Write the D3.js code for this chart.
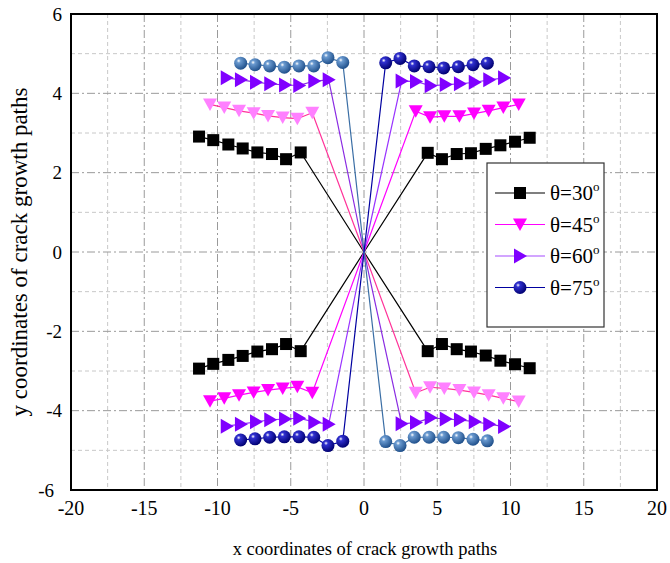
<!DOCTYPE html>
<html lang="en">
<head>
<meta charset="UTF-8">
<script src="https://d3js.org/d3.v7.min.js"></script>
<style>
  body { margin: 0; background: #fff; }
</style>
</head>
<body>
<div id="chart"></div>
<script>
// Data
const xTicks = [-20, -15, -10, -5, 0, 5, 10, 15, 20];
const yTicks = [-6, -4, -2, 0, 2, 4, 6];

const x30L = [-11.26, -10.29, -9.26, -8.28, -7.28, -6.28, -5.32, -4.32];
const x30R = [4.35, 5.32, 6.33, 7.30, 8.31, 9.31, 10.31, 11.31];
const y30UL = [2.91, 2.82, 2.71, 2.61, 2.51, 2.47, 2.34, 2.51];
const y30UR = [2.50, 2.34, 2.47, 2.49, 2.60, 2.69, 2.78, 2.88];
const y30LL = [-2.94, -2.82, -2.72, -2.62, -2.51, -2.45, -2.32, -2.50];
const y30LR = [-2.50, -2.32, -2.45, -2.51, -2.61, -2.74, -2.83, -2.93];

const x45L = [-10.51, -9.54, -8.53, -7.53, -6.55, -5.55, -4.55, -3.53];
const x45R = [3.53, 4.51, 5.48, 6.51, 7.51, 8.51, 9.51, 10.56];
const y45UL = [3.72, 3.64, 3.56, 3.50, 3.43, 3.39, 3.36, 3.51];
const y45UR = [3.55, 3.40, 3.42, 3.42, 3.49, 3.56, 3.64, 3.72];
const y45LL = [-3.76, -3.69, -3.61, -3.54, -3.48, -3.44, -3.40, -3.55];
const y45LR = [-3.55, -3.41, -3.44, -3.48, -3.54, -3.61, -3.69, -3.77];

const x60L = [-9.37, -8.40, -7.37, -6.40, -5.39, -4.42, -3.39, -2.41];
const x60R = [2.57, 3.55, 4.55, 5.58, 6.55, 7.56, 8.55, 9.56];
const y60UL = [4.39, 4.34, 4.28, 4.24, 4.21, 4.20, 4.31, 4.34];
const y60UR = [4.31, 4.30, 4.19, 4.22, 4.24, 4.28, 4.34, 4.39];
const y60LL = [-4.39, -4.34, -4.28, -4.23, -4.21, -4.19, -4.29, -4.34];
const y60LR = [-4.33, -4.30, -4.18, -4.21, -4.23, -4.28, -4.34, -4.40];

const x75L = [-8.42, -7.44, -6.44, -5.44, -4.44, -3.43, -2.46, -1.45];
const x75R = [1.48, 2.46, 3.43, 4.44, 5.44, 6.44, 7.44, 8.42];
const y75UL = [4.76, 4.72, 4.69, 4.66, 4.69, 4.69, 4.90, 4.78];
const y75UR = [4.77, 4.88, 4.69, 4.67, 4.64, 4.67, 4.72, 4.76];
const y75LL = [-4.74, -4.71, -4.67, -4.66, -4.66, -4.67, -4.88, -4.77];
const y75LR = [-4.78, -4.88, -4.67, -4.67, -4.67, -4.68, -4.72, -4.76];

const legendLabels = ["30", "45", "60", "75"];

// Series: side tells whether the origin joins at the end (left) or start (right)
const series = [
  { xs: x30L, ys: y30UL, side: "L", mark: "square", fill: "#000", line: "#000" },
  { xs: x30R, ys: y30UR, side: "R", mark: "square", fill: "#000", line: "#000" },
  { xs: x30L, ys: y30LL, side: "L", mark: "square", fill: "#000", line: "#000" },
  { xs: x30R, ys: y30LR, side: "R", mark: "square", fill: "#000", line: "#000" },
  { xs: x45L, ys: y45UL, side: "L", mark: "down", fill: "#ff80ff", line: "#ff3399" },
  { xs: x45R, ys: y45UR, side: "R", mark: "down", fill: "#ff00ff", line: "#ff00ff" },
  { xs: x45L, ys: y45LL, side: "L", mark: "down", fill: "#ff00ff", line: "#ff00ff" },
  { xs: x45R, ys: y45LR, side: "R", mark: "down", fill: "#ff80ff", line: "#ff3399" },
  { xs: x60L, ys: y60UL, side: "L", mark: "right", fill: "#8000ff", line: "#8a2be2" },
  { xs: x60R, ys: y60UR, side: "R", mark: "right", fill: "#8000ff", line: "#9933ff" },
  { xs: x60L, ys: y60LL, side: "L", mark: "right", fill: "#8000ff", line: "#9933ff" },
  { xs: x60R, ys: y60LR, side: "R", mark: "right", fill: "#8000ff", line: "#8a2be2" },
  { xs: x75L, ys: y75UL, side: "L", mark: "ball", fill: "url(#gSteel)", line: "#3a6ea5" },
  { xs: x75R, ys: y75UR, side: "R", mark: "ball", fill: "url(#gNavy)", line: "#0000a0" },
  { xs: x75L, ys: y75LL, side: "L", mark: "ball", fill: "url(#gNavy)", line: "#0000a0" },
  { xs: x75R, ys: y75LR, side: "R", mark: "ball", fill: "url(#gSteel)", line: "#3a6ea5" }
];

const legendItems = [
  { mark: "square", fill: "#000", line: "#000" },
  { mark: "down", fill: "#ff00ff", line: "#ff00ff" },
  { mark: "right", fill: "#8000ff", line: "#a64dff" },
  { mark: "ball", fill: "url(#gNavy)", line: "#0000a0" }
];

const serif = "'Liberation Serif', 'DejaVu Serif', serif";
const width = 670, height = 563;
const plotLeft = 71, plotRight = 657, plotTop = 14, plotBottom = 490;

const svg = d3.select("#chart").append("svg")
  .attr("width", width).attr("height", height)
  .attr("font-family", serif);

// sphere gradients
const defs = svg.append("defs");
function ballGradient(id, mid, dark) {
  const g = defs.append("radialGradient").attr("id", id)
    .attr("cx", "35%").attr("cy", "32%").attr("r", "70%");
  g.append("stop").attr("offset", "0%").attr("stop-color", "#ffffff");
  g.append("stop").attr("offset", "22%").attr("stop-color", mid);
  g.append("stop").attr("offset", "100%").attr("stop-color", dark);
}
ballGradient("gNavy", "#3030d0", "#000070");
ballGradient("gSteel", "#6a9ad0", "#1f4f8a");

const x = d3.scaleLinear().domain([-20, 20]).range([plotLeft, plotRight]);
const y = d3.scaleLinear().domain([-6, 6]).range([plotBottom, plotTop]);

// grid
const grid = svg.append("g");
d3.range(-17.5, 20, 2.5).forEach(v => {
  const major = v % 5 === 0;
  grid.append("line")
    .attr("x1", x(v)).attr("x2", x(v)).attr("y1", plotTop).attr("y2", plotBottom)
    .attr("stroke", major ? "#9a9a9a" : "#c8c8c8")
    .attr("stroke-width", 1)
    .attr("stroke-dasharray", major ? "8,3,2,3" : "4,3");
});
d3.range(-5, 6, 1).forEach(v => {
  const major = v % 2 === 0;
  grid.append("line")
    .attr("x1", plotLeft).attr("x2", plotRight).attr("y1", y(v)).attr("y2", y(v))
    .attr("stroke", major ? "#9a9a9a" : "#c8c8c8")
    .attr("stroke-width", 1)
    .attr("stroke-dasharray", major ? "8,3,2,3" : "4,3");
});

// frame
svg.append("rect")
  .attr("x", plotLeft).attr("y", plotTop)
  .attr("width", plotRight - plotLeft).attr("height", plotBottom - plotTop)
  .attr("fill", "none").attr("stroke", "#000").attr("stroke-width", 2);

// tick labels
svg.append("g").selectAll("text")
  .data(xTicks).join("text")
  .attr("x", d => x(d)).attr("y", plotBottom + 25)
  .attr("text-anchor", "middle").attr("font-size", 20)
  .text(d => d);

svg.append("g").selectAll("text")
  .data(yTicks).join("text")
  .attr("x", d => d === -6 ? plotLeft - 17 : plotLeft - 9)
  .attr("y", d => y(d) + 6.5)
  .attr("text-anchor", "end").attr("font-size", 19)
  .text(d => d);

// axis titles
svg.append("text")
  .attr("x", x(0) + 1).attr("y", 555)
  .attr("text-anchor", "middle").attr("font-size", 18.5)
  .text("x coordinates of crack growth paths");

svg.append("text")
  .attr("transform", `translate(27,${y(0)}) rotate(-90)`)
  .attr("text-anchor", "middle").attr("font-size", 23)
  .text("y coordinates of crack growth paths");

// marker drawing
function drawMark(g, type, fill) {
  if (type === "square") {
    g.append("rect").attr("x", -6).attr("y", -6)
      .attr("width", 12).attr("height", 12).attr("fill", fill);
  } else if (type === "down") {
    g.append("path").attr("d", "M-7,-6L7,-6L0,6.5Z").attr("fill", fill);
  } else if (type === "right") {
    g.append("path").attr("d", "M-6,-7.5L-6,7.5L7,0Z").attr("fill", fill);
  } else {
    g.append("circle").attr("r", 6.5).attr("fill", fill);
  }
}

const line = d3.line().x(d => x(d[0])).y(d => y(d[1]));
const plot = svg.append("g");

series.forEach(s => {
  const pts = s.xs.map((v, i) => [v, s.ys[i]]);
  const path = s.side === "L" ? pts.concat([[0, 0]]) : [[0, 0]].concat(pts);
  plot.append("path")
    .attr("d", line(path))
    .attr("fill", "none").attr("stroke", s.line).attr("stroke-width", 1.2);
});

series.forEach(s => {
  const pts = s.xs.map((v, i) => [v, s.ys[i]]);
  pts.forEach(p => {
    const g = plot.append("g").attr("transform", `translate(${x(p[0])},${y(p[1])})`);
    drawMark(g, s.mark, s.fill);
  });
});

// legend
const lg = svg.append("g").attr("transform", "translate(487,163)");
lg.append("rect").attr("width", 117).attr("height", 164)
  .attr("fill", "#fff").attr("stroke", "#333").attr("stroke-width", 1.2);

legendItems.forEach((d, i) => {
  const yy = 30 + i * 31.5;
  lg.append("line").attr("x1", 8).attr("x2", 58).attr("y1", yy).attr("y2", yy)
    .attr("stroke", d.line).attr("stroke-width", 1.2);
  drawMark(lg.append("g").attr("transform", `translate(33,${yy})`), d.mark, d.fill);
  const t = lg.append("text").attr("x", 63).attr("y", yy + 7).attr("font-size", 21);
  t.append("tspan").text("\u03b8=" + legendLabels[i]);
  t.append("tspan").attr("dy", -9).attr("font-size", 13).text("o");
});
</script>
</body>
</html>
